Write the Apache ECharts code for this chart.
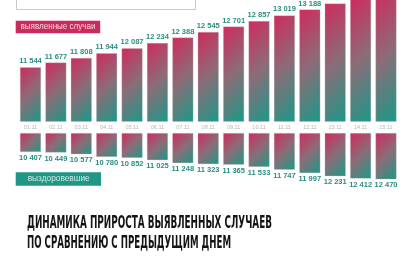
<!DOCTYPE html>
<html><head><meta charset="utf-8">
<script src="https://cdn.jsdelivr.net/npm/echarts@6/dist/echarts.min.js"></script>
<style>html,body{margin:0;padding:0;background:#fff}#c{width:414px;height:256px}</style>
</head><body><div id="c"></div>
<script>
const dates = ['01.11','02.11','03.11','04.11','05.11','06.11','07.11','08.11','09.11','10.11','11.11','12.11','13.11','14.11','15.11'];
const detected = [11544, 11677, 11808, 11944, 12087, 12234, 12388, 12545, 12701, 12857, 13019, 13188, 13358, 13525, 13690];
const recovered = [10407, 10449, 10577, 10780, 10852, 11025, 11248, 11323, 11365, 11533, 11747, 11997, 12231, 12412, 12470];
const detectedTitle = 'выявленные случаи';
const recoveredTitle = 'выздоровевшие';
const titleLines = ['ДИНАМИКА ПРИРОСТА ВЫЯВЛЕННЫХ СЛУЧАЕВ', 'ПО СРАВНЕНИЮ С ПРЕДЫДУЩИМ ДНЕМ'];

const PINK = '#d02a5c', MID = '#8a6d78', TEAL = '#1a9987';
const TOP = {min: 10000, max: 14000, top: -19, height: 140.4};
const BOT = {min: 9000, max: 13000, top: 133.3, height: 53.1};
const BAR_W = 21;
const GRID_LR = {left: 17.8, right: 15.3};

// 45-degree gradient in pixel space, spanning the bar from top-left to bottom-right corner
function grad(v, ax) {
  const h = Math.max(1, (v - ax.min) / (ax.max - ax.min) * ax.height);
  const w = BAR_W, t = (w + h) / 2;
  return new echarts.graphic.LinearGradient(0, 0, t / w, t / h, [
    {offset: 0, color: PINK}, {offset: 0.5, color: MID}, {offset: 1, color: TEAL}]);
}
const fmt = p => String(p.value).replace(/\B(?=(\d{3})+(?!\d))/g, ' ');

const mctx = document.createElement('canvas').getContext('2d');
function fit(text, font, target) { mctx.font = font; return target / mctx.measureText(text).width; }

const TFONT = '"DejaVu Sans Condensed", "Liberation Sans Narrow", sans-serif';
const TSIZE = 17;
const s1 = fit(titleLines[0], 'bold ' + TSIZE + 'px ' + TFONT, 245);
const s2 = fit(titleLines[1], 'bold ' + TSIZE + 'px ' + TFONT, 204);
const LFONT = '"Liberation Sans", Arial, sans-serif';
const s3 = fit(detectedTitle, '8.5px ' + LFONT, 75);
const s4 = fit(recoveredTitle, '9px ' + LFONT, 62);

const valLabel = {
  show: true, formatter: fmt, fontSize: 7.5, fontWeight: 'bold',
  fontFamily: '"Liberation Sans Narrow", "Liberation Sans", sans-serif', color: '#2a8c82', distance: 2
};
const itemBase = {borderColor: 'rgba(190,190,190,0.6)', borderWidth: 0.5};

const chart = echarts.init(document.getElementById('c'), null, {renderer: 'canvas'});
chart.setOption({
  animation: false,
  backgroundColor: '#ffffff',
  grid: [
    {left: GRID_LR.left, right: GRID_LR.right, top: TOP.top, height: TOP.height, containLabel: false, outerBoundsMode: 'none'},
    {left: GRID_LR.left, right: GRID_LR.right, top: BOT.top, height: BOT.height, containLabel: false, outerBoundsMode: 'none'}
  ],
  xAxis: [
    {type: 'category', gridIndex: 0, data: dates, axisLine: {show: false}, axisTick: {show: false},
     axisLabel: {fontSize: 5.5, color: '#b5b5b5', margin: 3, interval: 0}},
    {type: 'category', gridIndex: 1, data: dates, show: false, position: 'top'}
  ],
  yAxis: [
    {type: 'value', gridIndex: 0, min: TOP.min, max: TOP.max, show: false, splitLine: {show: false}},
    {type: 'value', gridIndex: 1, min: BOT.min, max: BOT.max, inverse: true, show: false, splitLine: {show: false}}
  ],
  series: [
    {type: 'bar', xAxisIndex: 0, yAxisIndex: 0, barWidth: BAR_W,
     data: detected.map(v => ({value: v, itemStyle: Object.assign({color: grad(v, TOP)}, itemBase)})),
     label: Object.assign({position: 'top'}, valLabel)},
    {type: 'bar', xAxisIndex: 1, yAxisIndex: 1, barWidth: BAR_W,
     data: recovered.map(v => ({value: v, itemStyle: Object.assign({color: grad(v, BOT)}, itemBase)})),
     label: Object.assign({position: 'bottom'}, valLabel)}
  ],
  graphic: [
    {type: 'rect', shape: {x: 16.5, y: -10, width: 179, height: 19.5}, style: {fill: '#fff', stroke: '#c9c9c9', lineWidth: 1}},
    {type: 'rect', shape: {x: 15.7, y: 20.7, width: 84.5, height: 12.6}, style: {fill: '#cb2a5c'}},
    {type: 'text', x: 58, y: 27, scaleX: s3, style: {text: detectedTitle, fontSize: 8.5, fontFamily: LFONT, fill: '#f6d9e2', align: 'center', verticalAlign: 'middle'}},
    {type: 'rect', shape: {x: 15.7, y: 172.3, width: 85.3, height: 13.4}, style: {fill: '#1f9686'}},
    {type: 'text', x: 58.7, y: 179, scaleX: s4, style: {text: recoveredTitle, fontSize: 9, fontFamily: LFONT, fill: '#cfeae4', align: 'center', verticalAlign: 'middle'}},
    {type: 'text', x: 27, y: 223.2, scaleX: s1, style: {text: titleLines[0], fontSize: TSIZE, fontWeight: 'bold', fontFamily: TFONT, fill: '#141414', align: 'left', verticalAlign: 'middle'}},
    {type: 'text', x: 27, y: 243.6, scaleX: s2, style: {text: titleLines[1], fontSize: TSIZE, fontWeight: 'bold', fontFamily: TFONT, fill: '#141414', align: 'left', verticalAlign: 'middle'}}
  ]
});
</script>
</body></html>
